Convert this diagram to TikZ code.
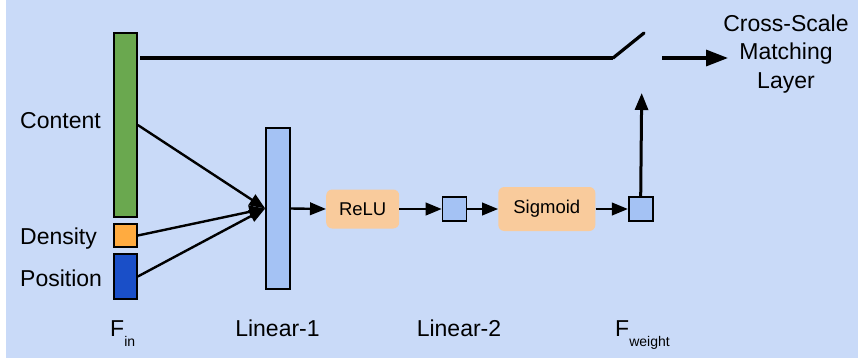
\documentclass[tikz,border=0pt]{standalone}
\usepackage{fontspec}
\setmainfont{Liberation Sans}
\usetikzlibrary{arrows.meta}
\definecolor{bgc}{HTML}{C9DAF8}
\definecolor{greenc}{HTML}{6AA84F}
\definecolor{orangec}{HTML}{FFAB40}
\definecolor{darkbluec}{HTML}{1A4FC8}
\definecolor{lightbluec}{HTML}{A4C2F4}
\definecolor{peachc}{HTML}{F9CB9C}
\tikzset{
  bar/.style={draw=black, line width=1.6pt, inner sep=0pt, rectangle},
  actbox/.style={fill=peachc, rounded corners=6pt, inner sep=0pt, font=\fontsize{18.5}{22}\selectfont},
  lbl/.style={inner sep=0pt, font=\fontsize{23}{28.3}\selectfont},
  conn/.style={line width=2.4pt, -{Triangle[length=16pt,width=12.5pt]}},
  vconn/.style={line width=3pt, -{Triangle[length=17pt,width=13pt]}},
  hconn/.style={line width=3.3pt, -{Triangle[length=22pt,width=16pt]}},
}
\begin{document}
\begin{tikzpicture}[x=1pt,y=-1pt]
\useasboundingbox (0,0) rectangle (858,360);
\fill[bgc] (6,0) rectangle (858,358);

% input bars
\node[bar, fill=greenc, minimum width=23pt, minimum height=184pt] (content) at (125.5,125) {};
\node[bar, fill=orangec, minimum width=23pt, minimum height=23pt] (density) at (125.5,235.5) {};
\node[bar, fill=darkbluec, minimum width=23pt, minimum height=45pt] (position) at (125.5,276.5) {};

% layers
\node[bar, fill=lightbluec, minimum width=24pt, minimum height=161pt] (lin1) at (278,208.5) {};
\node[actbox, minimum width=73pt, minimum height=39pt] (relu) at (362.7,209) {ReLU};
\node[bar, fill=lightbluec, minimum width=24pt, minimum height=24pt] (sq1) at (454.5,209) {};
\node[actbox, minimum width=97pt, minimum height=44pt] (sigmoid) at (546.8,209) {Sigmoid};
\node[bar, fill=lightbluec, minimum width=24pt, minimum height=24pt] (sq2) at (640.7,209) {};

% labels
\node[lbl, anchor=base west] (lcontent) at (20,128) {Content};
\node[lbl, anchor=base west] (ldensity) at (20,244) {Density};
\node[lbl, anchor=base west] (lposition) at (20,286.7) {Position};
\node[lbl, anchor=base west] (lfin) at (110,336.7) {F\raisebox{-10pt}{\fontsize{14}{16}\selectfont in}};
\node[lbl, anchor=base] (llin1) at (277.5,336.7) {Linear-1};
\node[lbl, anchor=base] (llin2) at (459,336.7) {Linear-2};
\node[lbl, anchor=base west] (lfw) at (615,336.7) {F\raisebox{-10pt}{\fontsize{14}{16}\selectfont weight}};
\node[lbl, align=center, anchor=center] (cs) at (786,54) {Cross-Scale\\Matching\\Layer};

% switch path
\coordinate (t0) at (140,58);
\coordinate (sw1) at (613,58);
\coordinate (sw2) at (644,33);
\coordinate (o0) at (662,58);
\coordinate (o1) at (728,58);
\coordinate (up) at (641.7,93);

\draw[line width=3.2pt] (t0) -- (sw1);
\draw[line width=3.2pt, line cap=round] (sw1) -- (sw2);
\draw[hconn] (o0) -- (o1);
\draw[vconn] (sq2.north) -- (up);

% connectors
\draw[conn] (content.east) -- (lin1.west);
\draw[conn] (density.east) -- (lin1.west);
\draw[conn] (position.east) -- (lin1.west);
\draw[conn] (lin1.east) -- (relu.west);
\draw[conn] (relu.east) -- (sq1.west);
\draw[conn] (sq1.east) -- (sigmoid.west);
\draw[conn] (sigmoid.east) -- (sq2.west);
\end{tikzpicture}
\end{document}
